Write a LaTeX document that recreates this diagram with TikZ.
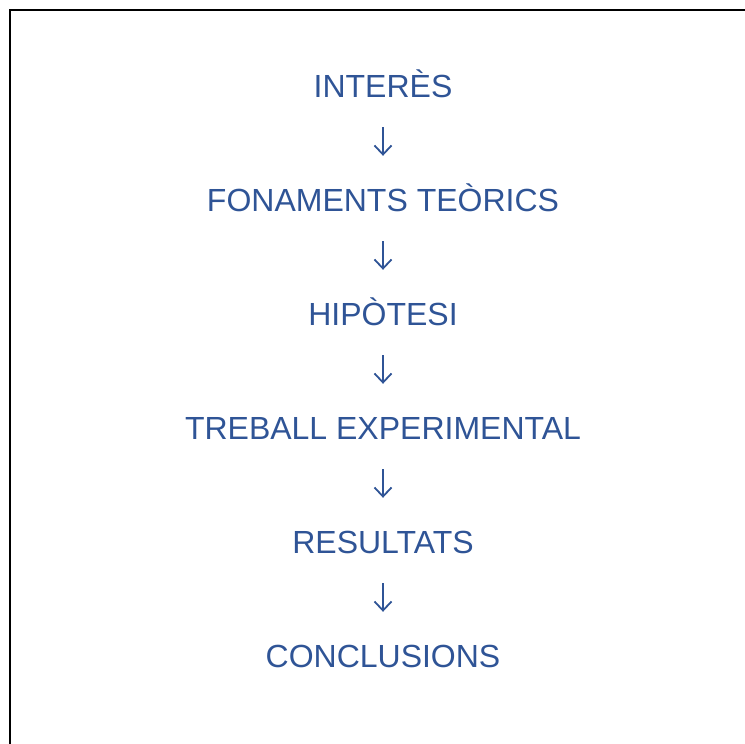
\documentclass[tikz,border=0pt]{standalone}
\usepackage{fontspec}
\setmainfont{Liberation Sans}
\usetikzlibrary{arrows.meta}
\definecolor{txtblue}{RGB}{47,84,150}
\tikzset{
  stage/.style={anchor=base, inner sep=0pt, text height=22pt, text depth=0pt,
    text=txtblue, font=\fontsize{32pt}{32pt}\selectfont},
  flowarrow/.style={draw=txtblue, line width=1.8pt,
    -{Straight Barb[length=9pt,width=17pt,line width=1.8pt]},
    shorten <=29pt, shorten >=34pt},
  frameline/.style={draw=black, line width=2.3pt, line join=miter}
}
\begin{document}
\begin{tikzpicture}[x=1pt,y=1pt]
\useasboundingbox (0,0) rectangle (745,744);
\draw[frameline] (10,-5) -- (10,734) -- (750,734);
\node[stage] (a) at (383,646) {INTERÈS};
\node[stage] (b) at (383,532) {FONAMENTS TEÒRICS};
\node[stage] (c) at (383,418) {HIPÒTESI};
\node[stage] (d) at (383,304) {TREBALL EXPERIMENTAL};
\node[stage] (e) at (383,190) {RESULTATS};
\node[stage] (f) at (383,76) {CONCLUSIONS};
\draw[flowarrow] (a.south) -- (b.north);
\draw[flowarrow] (b.south) -- (c.north);
\draw[flowarrow] (c.south) -- (d.north);
\draw[flowarrow] (d.south) -- (e.north);
\draw[flowarrow] (e.south) -- (f.north);
\end{tikzpicture}
\end{document}
